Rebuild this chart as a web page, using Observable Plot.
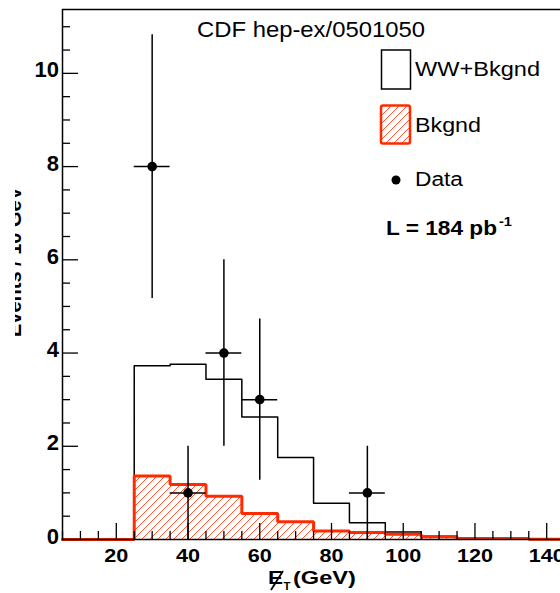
<!DOCTYPE html>
<html><head><meta charset="utf-8">
<script src="https://cdn.jsdelivr.net/npm/d3@7"></script>
<script src="https://cdn.jsdelivr.net/npm/@observablehq/plot@0.6"></script>
<style>body{margin:0;overflow:hidden;background:#fff} #chart{width:600px} svg{display:block;max-width:none !important;width:600px;height:593px}</style>
</head><body><div id="chart"></div>
<script>
// Histogram bins (lower edges, GeV) and contents (events / 10 GeV)
const binLo = [5,15,25,35,45,55,65,75,85,95,105,115,125,135,145];
const binWidth = 10;
const wwBkgnd = [0,0,3.73,3.76,3.44,2.63,1.76,0.78,0.36,0.16,0.07,0.02,0.02,0.005,0.005];
const bkgnd   = [0,0,1.36,1.18,0.93,0.56,0.38,0.18,0.15,0.11,0.06,0.02,0.02,0.005,0.005];
// Data points with errors
const dataX  = [30,40,50,60,90];
const dataY  = [8,1,4,3,1];
const dataLo = [5.17,0,2,1.27,0];
const dataHi = [10.83,2,6,4.73,2];
const xHalfWidth = 5;
// Axis ticks
const yTicks = [0,2,4,6,8,10];
const yMinor = [0.5,1,1.5,2.5,3,3.5,4.5,5,5.5,6.5,7,7.5,8.5,9,9.5,10.5,11];
const xTicks = [20,40,60,80,100,120,140];
const xMinor = [5,10,15,25,30,35,45,50,55,65,70,75,85,90,95,105,110,115,125,130,135,145,150];

const RED = "#ff2a00";
const FONT = "'Liberation Sans', Arial, Helvetica, sans-serif";

function steps(vals) {
  const pts = binLo.map((x, i) => ({x, y: vals[i]}));
  pts.push({x: binLo[binLo.length - 1] + binWidth, y: vals[vals.length - 1]});
  return pts;
}
const wwPts = steps(wwBkgnd);
const bgPts = steps(bkgnd);
const pts = dataX.map((x, i) => ({x, y: dataY[i], lo: dataLo[i], hi: dataHi[i], x1: x - xHalfWidth, x2: x + xHalfWidth}));

const svg = Plot.plot({
  width: 600, height: 593,
  marginLeft: 62, marginRight: 0, marginTop: 9, marginBottom: 54,
  x: {domain: [5, 155]},
  y: {domain: [0, 11.37]},
  style: {fontFamily: FONT, color: "#000", background: "#fff", maxWidth: "none"},
  marks: [
    Plot.areaY(bgPts, {x: "x", y: "y", curve: "step-after", fill: "none"}),
    Plot.lineY(wwPts, {x: "x", y: "y", curve: "step-after", stroke: "#000", strokeWidth: 1.5}),
    Plot.lineY(bgPts, {x: "x", y: "y", curve: "step-after", stroke: RED, strokeWidth: 3, strokeLinejoin: "miter"}),
    Plot.frame({stroke: "#000", strokeWidth: 1.5}),
    Plot.axisY({ticks: yTicks, tickSize: 0, tickPadding: 3.5, dy: -3, fontSize: 22, fontWeight: "bold", label: null}),
    Plot.axisY({ticks: yTicks, tickSize: -16, text: null, label: null, strokeWidth: 1.3}),
    Plot.axisY({ticks: yMinor, tickSize: -8, text: null, label: null, strokeWidth: 1.3}),
    Plot.axisX({ticks: xTicks, tickSize: 0, tickPadding: 10, fontSize: 18, fontWeight: "bold", label: null}),
    Plot.axisX({ticks: xTicks, tickSize: -16, text: null, label: null, strokeWidth: 1.3}),
    Plot.axisX({ticks: xMinor, tickSize: -8, text: null, label: null, strokeWidth: 1.3}),
    Plot.ruleX(pts, {x: "x", y1: "lo", y2: "hi", stroke: "#000", strokeWidth: 1.5}),
    Plot.ruleY(pts, {y: "y", x1: "x1", x2: "x2", stroke: "#000", strokeWidth: 1.5}),
    Plot.dot(pts, {x: "x", y: "y", r: 4.8, fill: "#000", stroke: "none"})
  ]
});
svg.style.maxWidth = "none";
svg.style.width = "600px";
svg.style.height = "593px";
document.getElementById("chart").appendChild(svg);

const s = d3.select(svg);
const defs = s.insert("defs", ":first-child");

// Hatching for the background histogram: diagonal lines clipped to the area path
const areaG = svg.querySelector('g[aria-label="area"]');
const areaPath = areaG.querySelector("path");
defs.append("clipPath").attr("id", "areaclip")
  .append("path").attr("d", areaPath.getAttribute("d"))
  .attr("transform", areaG.getAttribute("transform"));
function hatch(parent, clipId) {
  const g = parent.attr("clip-path", `url(#${clipId})`);
  for (let k = -600; k <= 700; k += 8) {
    g.append("line").attr("x1", k).attr("y1", 593).attr("x2", k + 593).attr("y2", 0)
      .attr("stroke", RED).attr("stroke-width", 1).attr("stroke-opacity", 0.8);
  }
}
hatch(s.insert("g", 'g[aria-label="line"]'), "areaclip");

const clip = defs.append("clipPath").attr("id", "ylabclip");
clip.append("rect").attr("x", 15).attr("y", 0).attr("width", 40).attr("height", 593);

function txt(x, y, size, str, weight, len) {
  const t = s.append("text").attr("x", x).attr("y", y).attr("text-anchor", "start")
    .attr("font-family", FONT).attr("font-size", size).attr("font-weight", weight || "normal")
    .attr("fill", "#000");
  if (str != null) t.text(str);
  if (len) t.attr("textLength", len).attr("lengthAdjust", "spacingAndGlyphs");
  return t;
}

// stretch x tick labels horizontally like the reference
s.selectAll('g[aria-label="x-axis tick label"] text').each(function() {
  const w = this.getComputedTextLength();
  d3.select(this).attr("textLength", w * 1.2).attr("lengthAdjust", "spacingAndGlyphs");
});

// Title
txt(197, 37, 22, "CDF hep-ex/0501050", "normal", 228);

// Legend
s.append("rect").attr("x", 381.5).attr("y", 50).attr("width", 29).attr("height", 39)
  .attr("fill", "#fff").attr("stroke", "#000").attr("stroke-width", 1.5);
txt(415, 76, 20, "WW+Bkgnd", "normal", 125);
defs.append("clipPath").attr("id", "legclip")
  .append("rect").attr("x", 381).attr("y", 105.5).attr("width", 29).attr("height", 38);
hatch(s.append("g"), "legclip");
s.append("rect").attr("x", 381).attr("y", 105.5).attr("width", 29).attr("height", 38).attr("rx", 2)
  .attr("fill", "none").attr("stroke", RED).attr("stroke-width", 2.5);
txt(415, 132, 20, "Bkgnd", "normal", 66);
s.append("circle").attr("cx", 396).attr("cy", 180).attr("r", 4.5).attr("fill", "#000");
txt(415, 186, 20, "Data", "normal", 48);
txt(386, 235, 20, "L = 184 pb", "bold", 111);
txt(499, 226, 13, "-1", "bold", 13);

// Y axis title (cut off at the left edge as in the original)
s.append("g").attr("clip-path", "url(#ylabclip)")
  .append("text").attr("transform", "translate(21,262) rotate(-90)").attr("text-anchor", "middle")
  .attr("font-family", FONT).attr("font-size", 20).attr("font-weight", "bold").text("Events / 10 GeV");

// X axis title: missing E_T (GeV)
txt(268, 584, 19, "E", "bold", 15);
txt(283.5, 590, 11, "T", "bold", 7);
txt(293, 584, 19, "(GeV)", "bold", 63);
s.append("line").attr("x1", 283).attr("y1", 571).attr("x2", 271).attr("y2", 590)
  .attr("stroke", "#000").attr("stroke-width", 1.8);
</script></body></html>
